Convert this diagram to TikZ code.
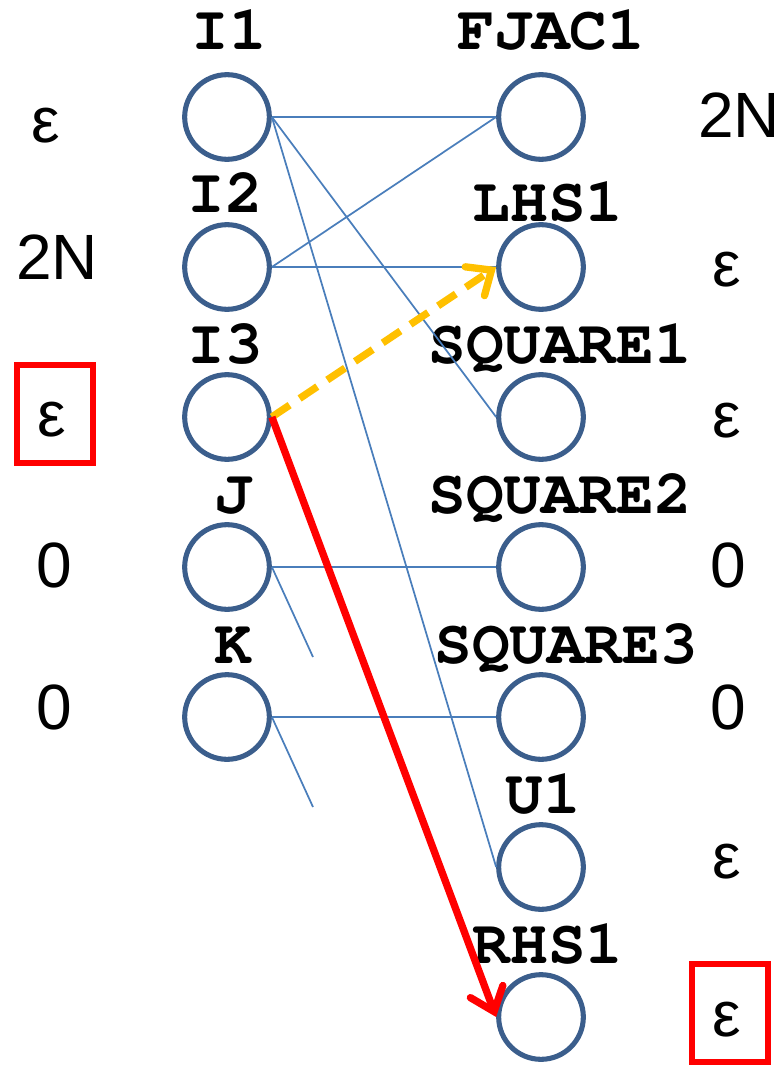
\documentclass[tikz,border=0pt]{standalone}
\usepackage[T1]{fontenc}
\usepackage{fontspec}
\setmainfont{Liberation Sans}
\newcommand\codefont{\fontencoding{T1}\fontfamily{pcr}\selectfont}
\usetikzlibrary{arrows.meta, positioning}
\definecolor{nodeblue}{RGB}{59,94,140}
\definecolor{edgeblue}{RGB}{74,126,187}
\definecolor{warnyellow}{RGB}{255,192,0}

\begin{document}
\begin{tikzpicture}[x=0.75pt, y=-0.75pt,
    var/.style={circle, draw=nodeblue, line width=3.8pt, minimum size=63.5pt, inner sep=0pt},
    varname/.style={font=\codefont\bfseries\fontsize{47}{47}\selectfont, anchor=base, inner sep=0pt},
    val/.style={font=\fontsize{48}{48}\selectfont, inner sep=0pt},
    flagbox/.style={draw=red, line width=4.5pt, minimum width=57pt, minimum height=73pt},
    dep/.style={edgeblue, line width=1.3pt}]
  \useasboundingbox (0,0) rectangle (782,1066);

  % Left column: inputs
  \node[var] (i1) at (227,117) {};
  \node[var] (i2) at (227,267) {};
  \node[var] (i3) at (227,417) {};
  \node[var] (j)  at (227,567) {};
  \node[var] (k)  at (227,717) {};
  \node[varname] (i1name) at (229,50)  {I1};
  \node[varname] (i2name) at (225,213) {I2};
  \node[varname] (i3name) at (225,363) {I3};
  \node[varname] (jname)  at (233,513) {J};
  \node[varname] (kname)  at (233,663) {K};

  % Right column: outputs
  \node[var] (fjac1)   at (541,117)  {};
  \node[var] (lhs1)    at (541,267)  {};
  \node[var] (square1) at (541,417)  {};
  \node[var] (square2) at (541,567)  {};
  \node[var] (square3) at (541,717)  {};
  \node[var] (u1)      at (541,867)  {};
  \node[var] (rhs1)    at (541,1017) {};
  \node[varname] (fjac1name)   at (551,50)  {FJAC1};
  \node[varname] (lhs1name)    at (548,222) {LHS1};
  \node[varname] (square1name) at (560,363) {SQUARE1};
  \node[varname] (square2name) at (560,513) {SQUARE2};
  \node[varname] (square3name) at (566,663) {SQUARE3};
  \node[varname] (u1name)      at (543,813) {U1};
  \node[varname] (rhs1name)    at (548,963) {RHS1};

  % Values
  \node[val] (i1val) at (46,126) {ε};
  \node[val] (i2val) at (57,257) {2N};
  \node[val] (i3val) at (52,420) {ε};
  \node[val] (jval)  at (54,565) {0};
  \node[val] (kval)  at (54,707) {0};
  \node[val] (fjac1val)   at (739,115)  {2N};
  \node[val] (lhs1val)    at (727,270)  {ε};
  \node[val] (square1val) at (727,421)  {ε};
  \node[val] (square2val) at (728,565)  {0};
  \node[val] (square3val) at (728,707)  {0};
  \node[val] (u1val)      at (727,862)  {ε};
  \node[val] (rhs1val)    at (727,1020) {ε};
  \node[flagbox] (i3flag)   at (55,414)   {};
  \node[flagbox] (rhs1flag) at (730,1013) {};

  % Dependencies
  \coordinate (jstub) at (313,657);
  \coordinate (kstub) at (313,807);
  \draw[dep] (i1.east) -- (fjac1.west);
  \draw[dep] (i1.east) -- (square1.west);
  \draw[dep] (i1.east) -- (u1.west);
  \draw[dep] (i2.east) -- (fjac1.west);
  \draw[dep] (i2.east) -- (lhs1.west);
  \draw[dep] (j.east) -- (square2.west);
  \draw[dep] (j.east) -- (jstub);
  \draw[dep] (k.east) -- (square3.west);
  \draw[dep] (k.east) -- (kstub);

  % Highlighted paths
  \draw[warnyellow, line width=5.5pt, dash pattern=on 16pt off 9pt,
    -{Straight Barb[length=15pt, width=26pt, line cap=round]}] (i3.east) -- (lhs1.west);
  \draw[red, line width=5.5pt,
    -{Straight Barb[length=16pt, width=26pt, line cap=round]}] (i3.east) -- (rhs1.west);
\end{tikzpicture}
\end{document}
